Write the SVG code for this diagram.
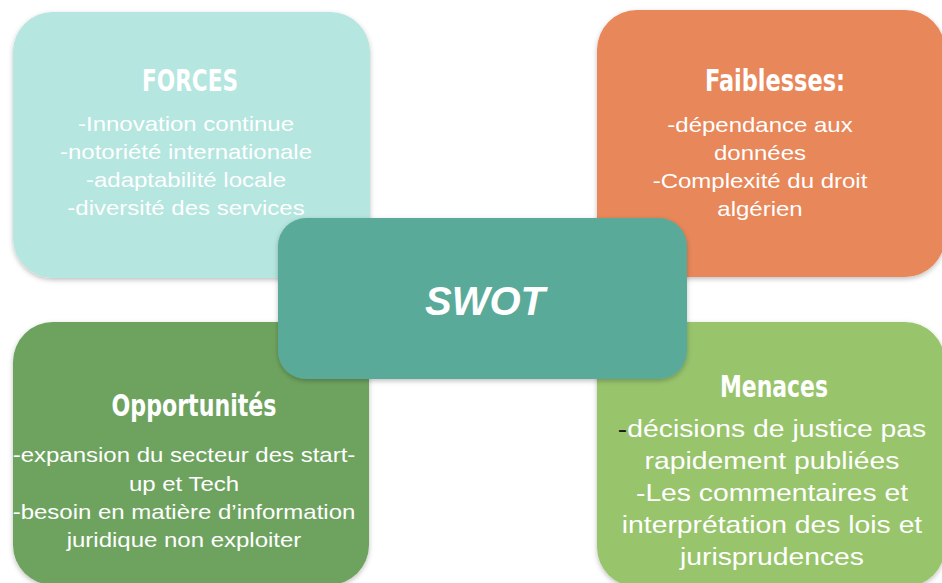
<svg xmlns="http://www.w3.org/2000/svg" width="942" height="583" viewBox="0 0 942 583">
  <defs>
    <filter id="shadow" x="-10%" y="-10%" width="120%" height="125%">
      <feDropShadow dx="0" dy="2" stdDeviation="2.5" flood-color="#000" flood-opacity="0.25"/>
    </filter>
  </defs>
  <style>
    .box { filter: url(#shadow); }
    .title { font-family: "DejaVu Sans Condensed", "DejaVu Sans", sans-serif; font-weight: bold; font-size: 31px; fill: #ffffff; text-anchor: middle; }
    .body { font-family: "Liberation Sans", Arial, sans-serif; font-size: 20px; fill: #ffffff; text-anchor: middle; }
    .big { font-size: 23.6px; }
    .swot { font-family: "Liberation Sans", Arial, sans-serif; font-weight: bold; font-style: italic; font-size: 40px; fill: #ffffff; text-anchor: middle; }
  </style>
  <rect width="942" height="583" fill="#ffffff"/>

  <g id="forces">
    <rect class="box" x="13" y="12" width="357" height="266" rx="40" fill="#b5e6df"/>
    <text class="title" x="190" y="91" textLength="96" lengthAdjust="spacingAndGlyphs">FORCES</text>
    <g transform="translate(186 0) scale(1.2 1)">
      <text class="body" x="0" y="131">-Innovation continue</text>
      <text class="body" x="0" y="159">-notoriété internationale</text>
      <text class="body" x="0" y="187">-adaptabilité locale</text>
      <text class="body" x="0" y="215">-diversité des services</text>
    </g>
  </g>

  <g id="faiblesses">
    <rect class="box" x="597" y="10" width="348" height="267" rx="40" fill="#e8875a"/>
    <text class="title" x="775" y="91" textLength="140" lengthAdjust="spacingAndGlyphs">Faiblesses:</text>
    <g transform="translate(760 0) scale(1.2 1)">
      <text class="body" x="0" y="132">-dépendance aux</text>
      <text class="body" x="0" y="160">données</text>
      <text class="body" x="0" y="188">-Complexité du droit</text>
      <text class="body" x="0" y="216">algérien</text>
    </g>
  </g>

  <g id="opportunites">
    <rect class="box" x="13" y="322" width="356" height="263" rx="40" fill="#6ea35e"/>
    <text class="title" x="194" y="416" textLength="165" lengthAdjust="spacingAndGlyphs">Opportunités</text>
    <g transform="translate(184 0) scale(1.2 1)">
      <text class="body" x="0" y="462">-expansion du secteur des start-</text>
      <text class="body" x="0" y="491">up et Tech</text>
      <text class="body" x="0" y="519">-besoin en matière d’information</text>
      <text class="body" x="0" y="547">juridique non exploiter</text>
    </g>
  </g>

  <g id="menaces">
    <rect class="box" x="597" y="322" width="348" height="265" rx="40" fill="#98c46c"/>
    <text class="title" x="774" y="397" textLength="108" lengthAdjust="spacingAndGlyphs">Menaces</text>
    <g transform="translate(772 0) scale(1.2 1)">
      <text class="body big" x="0" y="437"><tspan fill="#1a1a1a">-</tspan>décisions de justice pas</text>
      <text class="body big" x="0" y="469">rapidement publiées</text>
      <text class="body big" x="0" y="501">-Les commentaires et</text>
      <text class="body big" x="0" y="533">interprétation des lois et</text>
      <text class="body big" x="0" y="565">jurisprudences</text>
    </g>
  </g>

  <g id="swot">
    <rect class="box" x="278" y="218" width="409" height="161" rx="28" fill="#5aaa9a"/>
    <text class="swot" x="485" y="315">SWOT</text>
  </g>
</svg>
